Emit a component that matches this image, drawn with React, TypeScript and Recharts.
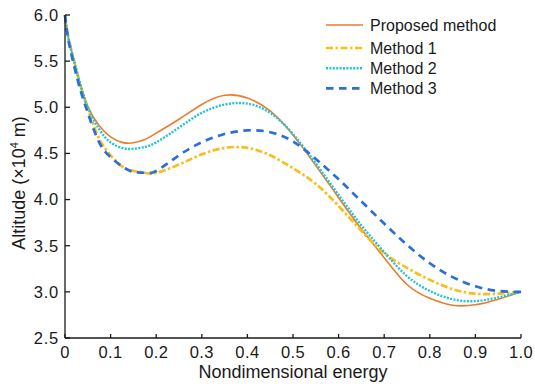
import React from "react";
import { LineChart, Line, XAxis, YAxis, Label } from "recharts";

// Nondimensional energy samples (denser near the start, where the descent is steep)
const energy = [
  0, 0.007, 0.02, 0.033, 0.05, 0.075, 0.1, 0.125, 0.15, 0.175, 0.2, 0.25, 0.3,
  0.35, 0.4, 0.45, 0.5, 0.55, 0.6, 0.65, 0.7, 0.75, 0.8, 0.85, 0.9, 0.95, 1.0,
];

// Altitude profiles (×10^4 m)
const proposed = [
  6.0, 5.76, 5.5, 5.26, 5.01, 4.8, 4.68, 4.62, 4.615, 4.65, 4.72, 4.87, 5.03,
  5.13, 5.1, 4.96, 4.7, 4.37, 4.02, 3.68, 3.37, 3.08, 2.93, 2.855, 2.86, 2.92, 3.0,
];
const method1 = [
  6.0, 5.77, 5.5, 5.25, 4.98, 4.66, 4.48, 4.36, 4.31, 4.29, 4.29, 4.38, 4.49,
  4.56, 4.56, 4.48, 4.34, 4.17, 3.93, 3.66, 3.42, 3.26, 3.13, 3.03, 2.98, 2.98, 3.0,
];
const method2 = [
  6.0, 5.76, 5.5, 5.26, 5.0, 4.76, 4.62, 4.56, 4.55, 4.57, 4.62, 4.78, 4.94,
  5.03, 5.04, 4.94, 4.71, 4.39, 4.05, 3.72, 3.43, 3.17, 3.01, 2.92, 2.9, 2.94, 3.0,
];
const method3 = [
  6.0, 5.74, 5.45, 5.2, 4.94, 4.62, 4.46, 4.36, 4.3, 4.29, 4.31, 4.48, 4.62,
  4.71, 4.75, 4.73, 4.63, 4.44, 4.22, 3.98, 3.74, 3.51, 3.31, 3.16, 3.06, 3.01, 3.0,
];

const xTicks = [0, 0.1, 0.2, 0.3, 0.4, 0.5, 0.6, 0.7, 0.8, 0.9, 1.0];
const yTicks = [2.5, 3.0, 3.5, 4.0, 4.5, 5.0, 5.5, 6.0];

const seriesNames = ["Proposed method", "Method 1", "Method 2", "Method 3"];

const rows = energy.map((e, i) => ({
  e,
  proposed: proposed[i],
  m1: method1[i],
  m2: method2[i],
  m3: method3[i],
}));

const FONT = "'Liberation Sans', Arial, sans-serif";
const INK = "#1a1a1a";

const styles = [
  { key: "proposed", color: "#EF7A2E", width: 1.6, dash: undefined as string | undefined },
  { key: "m1", color: "#F9BD1C", width: 2.7, dash: "7 2.5 2.5 2.5" },
  { key: "m2", color: "#22C4CF", width: 2.4, dash: "2 1.4" },
  { key: "m3", color: "#2A6FD9", width: 2.7, dash: "7.5 5.5" },
];

const legendRowY = [25, 48, 68.3, 88.3];

// Legend in the upper-right corner, drawn over the plot
function LegendBox() {
  return (
    <svg width={535} height={110} style={{ position: "absolute", left: 0, top: 0, pointerEvents: "none" }}>
      {styles.map((s, i) => {
        const y = legendRowY[i];
        return (
          <g key={s.key}>
            <line
              x1={326}
              x2={363}
              y1={y}
              y2={y}
              stroke={s.color}
              strokeWidth={s.width}
              strokeDasharray={s.dash}
            />
            <text x={370} y={y + 5.8} fontSize={16} fontFamily={FONT} fill={INK}>
              {seriesNames[i]}
            </text>
          </g>
        );
      })}
    </svg>
  );
}

export default function App() {
  return (
    <div style={{ position: "absolute", left: 0, top: 0, width: 535, height: 388, background: "#fff" }}>
      <LineChart
        width={535}
        height={388}
        data={rows}
        margin={{ top: 15, right: 14, bottom: 0, left: 0 }}
      >
        <XAxis
          dataKey="e"
          type="number"
          domain={[0, 1]}
          ticks={xTicks}
          tickFormatter={(v: number) => (v === 0 ? "0" : v.toFixed(1))}
          height={50}
          tickSize={-4}
          tickMargin={12}
          axisLine={{ stroke: INK, strokeWidth: 1.3 }}
          tickLine={{ stroke: INK, strokeWidth: 1.3 }}
          tick={{ fontSize: 16.5, fontFamily: FONT, fill: INK, letterSpacing: 0.4 }}
          interval={0}
        >
          <Label
            content={() => (
              <text x={293} y={378} textAnchor="middle" fontSize={18} fontFamily={FONT} fill={INK}>
                Nondimensional energy
              </text>
            )}
          />
        </XAxis>
        <YAxis
          type="number"
          domain={[2.5, 6.0]}
          ticks={yTicks}
          tickFormatter={(v: number) => v.toFixed(1)}
          width={65}
          tickSize={-5}
          tickMargin={11}
          axisLine={{ stroke: INK, strokeWidth: 1.3 }}
          tickLine={{ stroke: INK, strokeWidth: 1.3 }}
          tick={{ fontSize: 16.5, fontFamily: FONT, fill: INK, letterSpacing: 0.8 }}
          interval={0}
        >
          <Label
            content={() => (
              <text
                x={25}
                y={183}
                transform="rotate(-90 25 183)"
                textAnchor="middle"
                fontSize={18}
                fontFamily={FONT}
                fill={INK}
              >
                Altitude (×10
                <tspan dy={-7} fontSize={11}>4</tspan>
                <tspan dy={7}> m)</tspan>
              </text>
            )}
          />
        </YAxis>
        {styles.map((s, i) => (
          <Line
            key={s.key}
            dataKey={s.key}
            name={seriesNames[i]}
            type="natural"
            stroke={s.color}
            strokeWidth={s.width}
            strokeDasharray={s.dash}
            dot={false}
            activeDot={false}
            isAnimationActive={false}
          />
        ))}
      </LineChart>
      <LegendBox />
    </div>
  );
}
